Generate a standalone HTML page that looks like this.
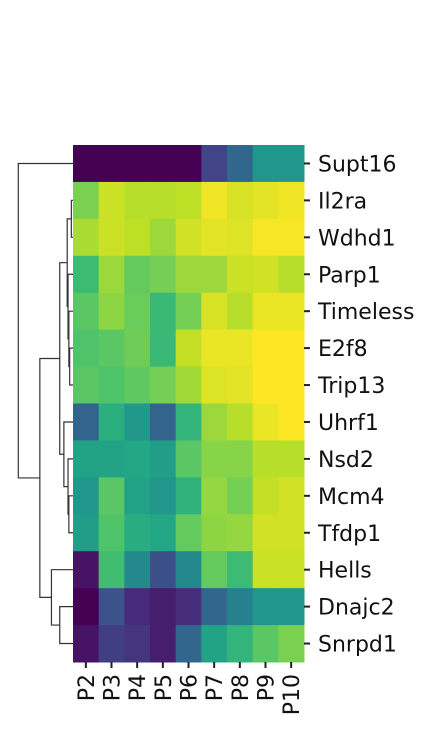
<!DOCTYPE html>
<html><head><meta charset="utf-8"><style>
html,body{margin:0;padding:0;background:#fff;width:434px;height:735px;overflow:hidden}
svg text{font-family:"DejaVu Sans","Liberation Sans",sans-serif;font-size:22px;fill:#111}
</style></head><body>
<svg id="chart" width="434" height="735" viewBox="0 0 434 735"></svg>
<script>
const genes = ["Supt16","Il2ra","Wdhd1","Parp1","Timeless","E2f8","Trip13","Uhrf1","Nsd2","Mcm4","Tfdp1","Hells","Dnajc2","Snrpd1"];
const samples = ["P2","P3","P4","P5","P6","P7","P8","P9","P10"];
const rowSupt16 = [0,0,0,0,0,0.2,0.33,0.52,0.52];
const rowIl2ra = [0.8,0.92,0.89,0.89,0.9,0.98,0.94,0.96,0.98];
const rowWdhd1 = [0.87,0.92,0.9,0.85,0.93,0.96,0.95,0.99,0.99];
const rowParp1 = [0.68,0.85,0.76,0.79,0.85,0.85,0.92,0.93,0.89];
const rowTimeless = [0.74,0.83,0.77,0.67,0.79,0.94,0.89,0.97,0.97];
const rowE2f8 = [0.72,0.74,0.78,0.67,0.91,0.97,0.97,1,1];
const rowTrip13 = [0.74,0.72,0.75,0.79,0.86,0.95,0.96,1,1];
const rowUhrf1 = [0.32,0.63,0.53,0.32,0.65,0.85,0.89,0.97,1];
const rowNsd2 = [0.58,0.58,0.6,0.55,0.74,0.82,0.82,0.89,0.89];
const rowMcm4 = [0.52,0.74,0.57,0.52,0.64,0.84,0.79,0.91,0.93];
const rowTfdp1 = [0.55,0.72,0.62,0.6,0.76,0.83,0.84,0.93,0.93];
const rowHells = [0.05,0.69,0.47,0.24,0.47,0.76,0.68,0.92,0.92];
const rowDnajc2 = [0,0.25,0.12,0.08,0.13,0.33,0.43,0.52,0.52];
const rowSnrpd1 = [0.05,0.18,0.15,0.08,0.33,0.58,0.65,0.74,0.8];
const values = [rowSupt16,rowIl2ra,rowWdhd1,rowParp1,rowTimeless,rowE2f8,rowTrip13,rowUhrf1,rowNsd2,rowMcm4,rowTfdp1,rowHells,rowDnajc2,rowSnrpd1];
// linkage merges: [nodeA, nodeB, height]; indices >=14 refer to earlier merges
const mergeA = [5,1,4,3,15,9,8,7,18,12,11,22,0];
const mergeB = [6,2,14,16,17,10,19,20,21,13,23,24,25];
const mergeH = [0.04,0.02,0.05,0.06,0.07,0.05,0.06,0.11,0.16,0.16,0.26,0.40,0.66];

const svg = document.getElementById('chart');
const NS = 'http://www.w3.org/2000/svg';
const X0=73, X1=304, Y0=145, Y1=662;
const cw=(X1-X0)/samples.length, rh=(Y1-Y0)/genes.length;
const xPos = i => X0 + i*cw;
const yPos = i => Y0 + i*rh;
const dendX = h => 73 - h/0.66*(73-18.3);

const vir = [[68,1,84],[72,36,117],[65,68,135],[53,95,141],[42,120,142],[33,145,140],[34,168,132],[68,191,112],[122,209,81],[189,223,38],[253,231,37]];
function viridis(t){t=Math.max(0,Math.min(1,t))*10;const i=Math.min(9,Math.floor(t)),f=t-i;const a=vir[i],b=vir[i+1];
 return 'rgb('+a.map((v,k)=>Math.round(v+(b[k]-v)*f)).join(',')+')';}
function mk(tag,attrs){const e=document.createElementNS(NS,tag);for(const k in attrs)e.setAttribute(k,attrs[k]);svg.appendChild(e);return e;}

for(let r=0;r<genes.length;r++){
 for(let c=0;c<samples.length;c++){
  const e=mk('rect',{x:xPos(c),y:yPos(r),width:cw+0.5,height:rh+0.5,fill:viridis(values[r][c])});
  
  
 }
 const t=mk('line',{x1:X1,x2:X1+6,y1:yPos(r)+rh/2,y2:yPos(r)+rh/2,stroke:'#222','stroke-width':2});
 
 
 const l=mk('text',{x:318,y:yPos(r)+rh/2+8});
 l.textContent=genes[r];
 
 
}
for(let c=0;c<samples.length;c++){
 const cx=xPos(c)+cw/2;
 const t=mk('line',{x1:cx,x2:cx,y1:Y1,y2:Y1+6,stroke:'#222','stroke-width':2});
 
 
 const l=mk('text',{x:0,y:0,transform:'translate('+(cx+8)+','+(Y1+12)+') rotate(-90)','text-anchor':'end'});
 l.textContent=samples[c];
 
 
}
const nodeY=[],nodeH=[];
for(let i=0;i<genes.length;i++){nodeY.push(yPos(i)+rh/2);nodeH.push(0);}
for(let k=0;k<mergeA.length;k++){
 const a=mergeA[k],b=mergeB[k],h=mergeH[k];const xa=dendX(nodeH[a]),xb=dendX(nodeH[b]),xh=dendX(h);
 const p=mk('path',{d:'M'+xa+','+nodeY[a]+'H'+xh+'V'+nodeY[b]+'H'+xb,fill:'none',stroke:'#333','stroke-width':1.2});
 
 
 nodeY.push((nodeY[a]+nodeY[b])/2);nodeH.push(h);
}
</script>
</body></html>
